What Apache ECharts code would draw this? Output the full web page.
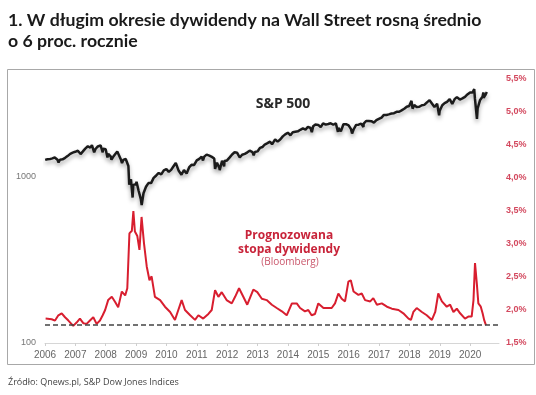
<!DOCTYPE html>
<html><head><meta charset="utf-8">
<script src="https://cdn.jsdelivr.net/npm/echarts@6/dist/echarts.min.js"></script>
<style>html,body{margin:0;padding:0;background:#fff}#c{width:536px;height:395px}</style>
</head><body><div id="c"></div>
<script>
const titleLines = ['1. W długim okresie dywidendy na Wall Street rosną średnio', 'o 6 proc. rocznie'];
const sourceText = 'Źródło: Qnews.pl, S&P Dow Jones Indices';
const spLabel = 'S&P 500';
const yieldLabel = ['Prognozowana', 'stopa dywidendy'];
const yieldSubLabel = '(Bloomberg)';
const xYears = [2006, 2007, 2008, 2009, 2010, 2011, 2012, 2013, 2014, 2015, 2016, 2017, 2018, 2019, 2020];
const leftTicks = [100, 1000];
const rightTicks = [1.5, 2.0, 2.5, 3.0, 3.5, 4.0, 4.5, 5.0, 5.5];
const yieldBaseline = 1.77;

const spDates = [
'2006-01-03','2006-01-31','2006-02-28','2006-03-31','2006-04-28','2006-05-05','2006-05-31','2006-06-13','2006-06-30','2006-07-31','2006-08-31','2006-09-29','2006-10-31','2006-11-30','2006-12-29',
'2007-01-31','2007-02-20','2007-03-05','2007-03-30','2007-04-30','2007-05-31','2007-06-29','2007-07-19','2007-08-15','2007-08-31','2007-09-28','2007-10-09','2007-10-31','2007-11-26','2007-11-30','2007-12-31',
'2008-01-22','2008-01-31','2008-02-29','2008-03-10','2008-03-31','2008-04-30','2008-05-19','2008-06-30','2008-07-15','2008-07-31','2008-08-29','2008-09-30','2008-10-10','2008-10-31','2008-11-20','2008-11-28','2008-12-31',
'2009-01-06','2009-01-31','2009-02-27','2009-03-09','2009-03-31','2009-04-30','2009-05-29','2009-06-30','2009-07-31','2009-08-31','2009-09-30','2009-10-30','2009-11-30','2009-12-31',
'2010-01-29','2010-02-26','2010-03-31','2010-04-23','2010-05-28','2010-06-30','2010-07-02','2010-07-30','2010-08-31','2010-09-30','2010-10-29','2010-11-30','2010-12-31',
'2011-01-31','2011-02-28','2011-03-16','2011-03-31','2011-04-29','2011-05-31','2011-06-30','2011-07-29','2011-08-08','2011-08-31','2011-09-30','2011-10-03','2011-10-31','2011-11-25','2011-11-30','2011-12-30',
'2012-01-31','2012-02-29','2012-03-30','2012-04-30','2012-05-31','2012-06-04','2012-06-29','2012-07-31','2012-08-31','2012-09-28','2012-10-31','2012-11-15','2012-11-30','2012-12-31',
'2013-01-31','2013-02-28','2013-03-28','2013-04-30','2013-05-31','2013-06-24','2013-06-28','2013-07-31','2013-08-30','2013-09-30','2013-10-31','2013-11-29','2013-12-31',
'2014-01-31','2014-02-28','2014-03-31','2014-04-30','2014-05-30','2014-06-30','2014-07-31','2014-08-29','2014-09-30','2014-10-15','2014-10-31','2014-11-28','2014-12-31',
'2015-01-30','2015-02-27','2015-03-31','2015-04-30','2015-05-29','2015-06-30','2015-07-31','2015-08-25','2015-08-31','2015-09-29','2015-10-30','2015-11-30','2015-12-31',
'2016-01-29','2016-02-11','2016-02-29','2016-03-31','2016-04-29','2016-05-31','2016-06-27','2016-06-30','2016-07-29','2016-08-31','2016-09-30','2016-10-31','2016-11-30','2016-12-30',
'2017-01-31','2017-02-28','2017-03-31','2017-04-28','2017-05-31','2017-06-30','2017-07-31','2017-08-31','2017-09-29','2017-10-31','2017-11-30','2017-12-29',
'2018-01-26','2018-02-08','2018-02-28','2018-03-29','2018-04-30','2018-05-31','2018-06-29','2018-07-31','2018-08-31','2018-09-20','2018-10-29','2018-10-31','2018-11-30','2018-12-24','2018-12-31',
'2019-01-31','2019-02-28','2019-03-29','2019-04-30','2019-05-31','2019-06-28','2019-07-26','2019-08-30','2019-09-30','2019-10-31','2019-11-29','2019-12-31',
'2020-01-31','2020-02-19','2020-02-28','2020-03-23','2020-03-31','2020-04-30','2020-05-29','2020-06-08','2020-06-11','2020-06-30','2020-07-20'
];
const spValues = [
1268,1280,1281,1295,1311,1325,1270,1223,1270,1277,1304,1336,1378,1401,1418,
1438,1460,1374,1421,1482,1531,1503,1553,1407,1474,1527,1565,1549,1407,1481,1468,
1310,1379,1331,1273,1323,1386,1426,1280,1214,1267,1283,1165,899,969,752,896,903,
935,826,735,677,798,873,919,919,987,1021,1057,1036,1096,1115,
1074,1104,1169,1217,1089,1031,1022,1102,1049,1141,1183,1181,1258,
1286,1327,1257,1326,1364,1345,1321,1292,1119,1219,1131,1099,1253,1159,1247,1258,
1312,1366,1408,1398,1310,1278,1362,1379,1407,1441,1412,1353,1416,1426,
1498,1515,1569,1598,1631,1573,1606,1686,1633,1682,1757,1806,1848,
1783,1859,1872,1884,1924,1960,1931,2003,1972,1862,2018,2068,2059,
1995,2105,2068,2086,2107,2063,2104,1868,1972,1882,2079,2080,2044,
1940,1829,1932,2060,2065,2097,2001,2099,2174,2171,2168,2126,2199,2239,
2279,2364,2363,2384,2412,2423,2470,2472,2519,2575,2648,2674,
2873,2581,2714,2641,2648,2705,2718,2816,2902,2931,2641,2712,2760,2351,2507,
2704,2784,2834,2946,2752,2942,3026,2926,2977,3038,3141,3231,
3226,3386,2954,2237,2585,2912,3044,3232,3002,3100,3251
];

const yieldYears = [
2006.02,2006.22,2006.33,2006.44,2006.55,2006.66,2006.77,2006.93,2007.04,2007.15,2007.26,2007.37,2007.48,2007.59,2007.70,2007.81,2007.90,2007.98,
2008.08,2008.20,2008.31,2008.41,2008.53,2008.64,2008.71,2008.78,2008.86,2008.91,2008.96,2009.04,2009.11,2009.18,2009.26,2009.35,2009.44,2009.51,2009.62,2009.79,2009.95,
2010.12,2010.28,2010.39,2010.50,2010.61,2010.78,2010.94,2011.05,2011.21,2011.38,2011.49,2011.60,2011.71,2011.82,2011.98,
2012.15,2012.26,2012.39,2012.53,2012.66,2012.86,2012.99,2013.14,2013.30,2013.47,2013.63,2013.80,2013.96,
2014.13,2014.29,2014.40,2014.56,2014.67,2014.78,2014.89,2015.00,2015.17,2015.44,2015.55,2015.66,2015.77,2015.88,2015.99,
2016.07,2016.16,2016.32,2016.43,2016.54,2016.71,2016.81,2016.93,2017.09,2017.26,2017.42,2017.64,2017.80,2017.97,
2018.05,2018.13,2018.24,2018.41,2018.57,2018.74,2018.85,2018.95,2019.07,2019.23,2019.34,2019.45,2019.56,2019.67,2019.83,2019.94,
2020.05,2020.11,2020.16,2020.22,2020.27,2020.35,2020.41,2020.46,2020.52
];
const yieldValues = [
1.87,1.86,1.84,1.92,1.95,1.89,1.84,1.76,1.81,1.87,1.80,1.79,1.84,1.89,1.79,1.84,1.92,2.00,
2.15,2.20,2.12,2.04,2.28,2.22,2.33,3.16,3.20,3.50,3.19,3.12,2.91,3.41,3.01,2.66,2.45,2.51,2.20,2.15,2.05,
1.97,1.85,2.00,2.15,2.00,1.92,1.85,1.92,1.87,1.94,2.00,2.30,2.20,2.27,2.15,
2.10,2.20,2.33,2.20,2.08,2.31,2.27,2.17,2.15,2.08,2.03,1.98,1.92,
2.10,2.10,2.03,1.98,2.00,1.92,1.94,2.10,2.03,2.03,2.10,2.25,2.17,2.13,2.43,
2.45,2.28,2.23,2.25,2.15,2.13,2.18,2.08,2.10,2.05,2.02,2.00,1.95,1.87,
1.85,1.97,2.03,1.97,1.92,1.85,1.97,2.25,2.13,2.05,2.08,1.97,2.02,1.95,1.87,1.90,
1.90,2.15,2.71,2.40,2.10,2.05,1.95,1.85,1.77
];

function decYear(s) {
  const p = s.split('-').map(Number);
  const t = Date.UTC(p[0], p[1] - 1, p[2]);
  const a = Date.UTC(p[0], 0, 1), b = Date.UTC(p[0] + 1, 0, 1);
  return p[0] + (t - a) / (b - a);
}
const spData = spDates.map((d, i) => [decYear(d), spValues[i]]);
const yieldData = yieldYears.map((y, i) => [y, yieldValues[i]]);

const chart = echarts.init(document.getElementById('c'), null, {renderer: 'canvas'});
const red = '#d81e2f';
chart.setOption({
  animation: false,
  backgroundColor: '#fff',
  grid: {left: 45, right: 37, top: 79, bottom: 52},
  xAxis: {
    type: 'value', min: xYears[0], max: 2020.95, interval: 1,
    axisLine: {show: true, lineStyle: {color: '#d6d6d6', width: 1}},
    axisTick: {show: true, length: 3, lineStyle: {color: '#cfcfcf'}},
    splitLine: {show: false},
    axisLabel: {
      color: '#666', fontSize: 10, fontFamily: 'Liberation Sans', margin: 7, showMaxLabel: false,
      formatter: v => xYears.includes(v) ? String(v) : ''
    }
  },
  yAxis: [{
    type: 'log', logBase: 10, min: 100, max: 3892,
    axisLine: {show: false}, axisTick: {show: false}, splitLine: {show: false},
    axisLabel: {
      color: '#777', fontSize: 9, fontFamily: 'Liberation Sans', margin: 9,
      formatter: v => { const r = leftTicks.find(t => Math.abs(t - v) < 1e-6 * t); return r ? String(r) : ''; }
    }
  }, {
    type: 'value', position: 'right', min: rightTicks[0], max: rightTicks[rightTicks.length - 1], interval: 0.5,
    axisLine: {show: false}, axisTick: {show: false}, splitLine: {show: false},
    axisLabel: {
      color: '#d3485e', fontSize: 9, fontWeight: 'bold', fontFamily: 'Liberation Sans', margin: 7,
      formatter: v => v.toFixed(1).replace('.', ',') + '%'
    }
  }],
  series: [{
    type: 'line', yAxisIndex: 1, data: yieldData, showSymbol: false, smooth: false,
    lineStyle: {color: red, width: 2},
    markLine: {
      silent: true, symbol: 'none', label: {show: false},
      lineStyle: {color: '#444', type: [5, 3], width: 1.5},
      data: [{yAxis: yieldBaseline}]
    },
    z: 2
  }, {
    type: 'line', yAxisIndex: 0, data: spData, showSymbol: false, smooth: false,
    lineStyle: {color: '#1b1b1b', width: 2.5, shadowColor: 'rgba(0,0,0,0.35)', shadowBlur: 4, shadowOffsetY: 3},
    z: 3
  }],
  graphic: [
    {type: 'rect', shape: {x: 7.5, y: 69.5, width: 527, height: 295}, style: {fill: null, stroke: '#a8a8a8', lineWidth: 1}, z: -1},
    {type: 'text', left: 8, top: 10, style: {text: titleLines.join('\n'), font: 'bold 17.7px Lato', lineHeight: 21, fill: '#1a1a1a'}},
    {type: 'text', left: 8, top: 378, style: {text: sourceText, font: '9px "Open Sans"', fill: '#444'}},
    {type: 'text', x: 283, y: 104, style: {text: spLabel, font: 'bold 14px "Open Sans"', fill: '#2a2a2a', align: 'center', verticalAlign: 'middle'}},
    {type: 'text', x: 289, y: 243, style: {text: yieldLabel.join('\n'), font: 'bold 12px "Open Sans"', lineHeight: 14, fill: '#c8243a', align: 'center', verticalAlign: 'middle'}},
    {type: 'text', x: 290, y: 262, style: {text: yieldSubLabel, font: '10px "Open Sans"', fill: '#c9556a', align: 'center', verticalAlign: 'middle'}}
  ]
});
</script></body></html>
